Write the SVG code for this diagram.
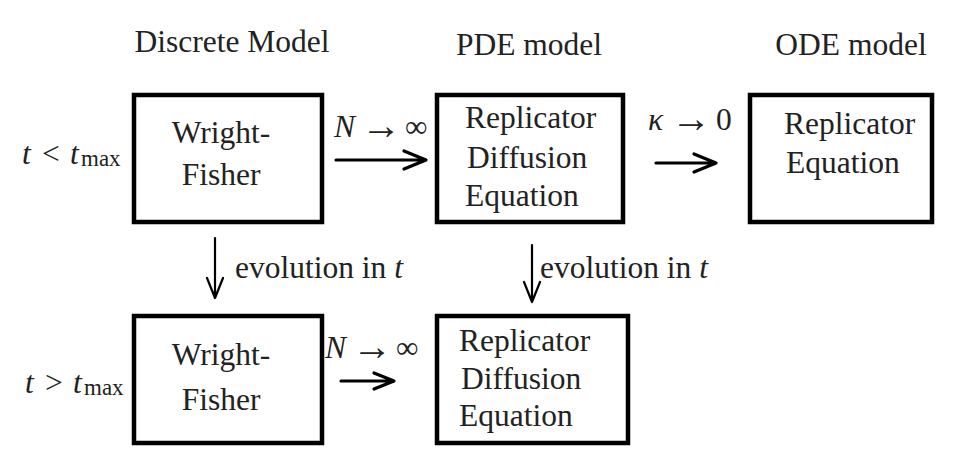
<svg xmlns="http://www.w3.org/2000/svg" width="962" height="449" viewBox="0 0 962 449">
<style>
text{font-family:"Liberation Serif","DejaVu Serif",serif;fill:#222;font-size:31.5px}
.box{fill:#fff;stroke:#000;stroke-width:4.5}
.i{font-style:italic}
.sub{font-size:23px}
.ar{font-size:40px}
.arr{fill:none;stroke:#000;stroke-width:3.2;stroke-linecap:round;stroke-linejoin:round}
.darr{fill:none;stroke:#000;stroke-width:2.2;stroke-linecap:round;stroke-linejoin:round}
</style>
<rect width="962" height="449" fill="#fff"/>
<g id="headers">
<text x="232" y="52" text-anchor="middle">Discrete Model</text>
<text x="529" y="55" text-anchor="middle">PDE model</text>
<text x="851" y="55" text-anchor="middle">ODE model</text>
</g>
<g id="row-labels">
<text y="164"><tspan class="i" x="22">t</tspan><tspan x="42">&lt;</tspan><tspan class="i" x="70">t</tspan><tspan class="sub" x="81" dy="2">max</tspan></text>
<text y="393"><tspan class="i" x="25">t</tspan><tspan x="45">&gt;</tspan><tspan class="i" x="73">t</tspan><tspan class="sub" x="84" dy="2">max</tspan></text>
</g>
<g id="wf1">
<rect class="box" x="134" y="95" width="188" height="127"/>
<text x="221" y="143" text-anchor="middle">Wright-</text>
<text x="221" y="185" text-anchor="middle">Fisher</text>
</g>
<g id="rde1">
<rect class="box" x="437" y="95" width="186" height="127"/>
<text x="465" y="128">Replicator</text>
<text x="467" y="168">Diffusion</text>
<text x="465" y="206">Equation</text>
</g>
<g id="re">
<rect class="box" x="750" y="95" width="182" height="127"/>
<text x="784" y="134">Replicator</text>
<text x="786" y="173">Equation</text>
</g>
<g id="wf2">
<rect class="box" x="134" y="316" width="188" height="127"/>
<text x="221" y="365" text-anchor="middle">Wright-</text>
<text x="221" y="410" text-anchor="middle">Fisher</text>
</g>
<g id="rde2">
<rect class="box" x="437" y="316" width="191" height="127"/>
<text x="459" y="351">Replicator</text>
<text x="461" y="389">Diffusion</text>
<text x="459" y="426">Equation</text>
</g>
<g id="connectors">
<path class="arr" d="M336 160H426M404 151L426 160L404 169"/>
<text y="137"><tspan class="i" x="334">N</tspan><tspan class="ar" x="361" dy="2">→</tspan><tspan x="405" dy="-2">∞</tspan></text>
<path class="arr" d="M656 163H716M694 154L716 163L694 172"/>
<text y="130"><tspan class="i" x="648">κ</tspan><tspan class="ar" x="671" dy="2">→</tspan><tspan x="716" dy="-2">0</tspan></text>
<path class="arr" d="M341 381H394M374 373L394 381L374 389"/>
<text y="358"><tspan class="i" x="325">N</tspan><tspan class="ar" x="352" dy="2">→</tspan><tspan x="396" dy="-2">∞</tspan></text>
<path class="darr" d="M215 238V298M207 278L215 298L223 278"/>
<text x="235" y="278">evolution in <tspan class="i">t</tspan></text>
<path class="darr" d="M532 245V302M524 282L532 302L540 282"/>
<text x="540" y="278">evolution in <tspan class="i">t</tspan></text>
</g>
</svg>
